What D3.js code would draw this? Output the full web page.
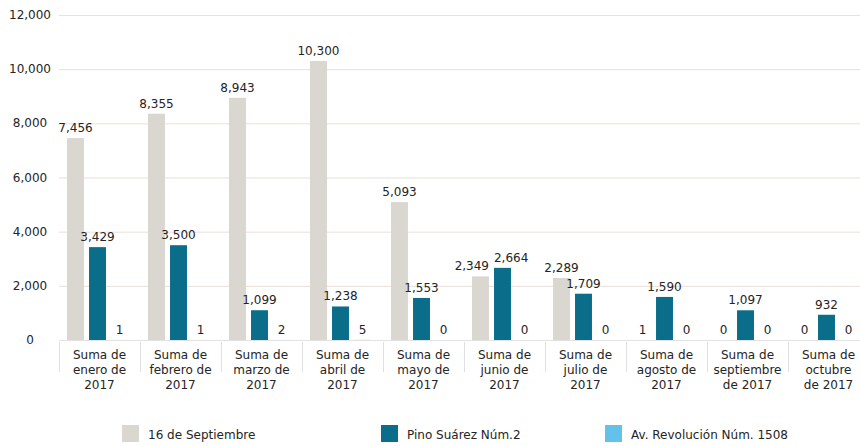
<!DOCTYPE html>
<html lang="es">
<head>
  <meta charset="UTF-8">
  <title>Suma por mes 2017</title>
  <style>
    body { margin: 0; background: #fff; }
    svg text { font-family: "DejaVu Sans", Verdana, sans-serif; fill: #242424; }
    .tick-y { font-size: 12px; text-anchor: middle; }
    .cat { font-size: 12px; text-anchor: middle; }
    .val { font-size: 12px; text-anchor: middle; }
    .legend text { font-size: 12px; }
  </style>
</head>
<body>
<svg width="860" height="446"></svg>

<script src="https://cdn.jsdelivr.net/npm/d3@7"></script>
<script>
  const categories = [
    ["Suma de", "enero de", "2017"],
    ["Suma de", "febrero de", "2017"],
    ["Suma de", "marzo de", "2017"],
    ["Suma de", "abril de", "2017"],
    ["Suma de", "mayo de", "2017"],
    ["Suma de", "junio de", "2017"],
    ["Suma de", "julio de", "2017"],
    ["Suma de", "agosto de", "2017"],
    ["Suma de", "septiembre", "de 2017"],
    ["Suma de", "octubre", "de 2017"]
  ];
  const seriesNames = ["16 de Septiembre", "Pino Suárez Núm.2", "Av. Revolución Núm. 1508"];
  const septiembre16 = [7456, 8355, 8943, 10300, 5093, 2349, 2289, 1, 0, 0];
  const pinoSuarez = [3429, 3500, 1099, 1238, 1553, 2664, 1709, 1590, 1097, 932];
  const avRevolucion = [1, 1, 2, 5, 0, 0, 0, 0, 0, 0];
  const yTicks = [0, 2000, 4000, 6000, 8000, 10000, 12000];

  const colors = ["#dad6d0", "#0a6e8b", "#62c2ea"];
  const series = [septiembre16, pinoSuarez, avRevolucion];

  const svg = d3.select("svg");
  const plotLeft = 59, plotRight = 869, plotTop = 15, plotBottom = 340;

  const x0 = d3.scaleBand()
    .domain(d3.range(categories.length))
    .range([plotLeft, plotRight]);

  const x1 = d3.scaleBand()
    .domain(d3.range(series.length))
    .range([8, 69])
    .paddingInner(0.23);

  const y = d3.scaleLinear()
    .domain([0, 12000])
    .range([plotBottom, plotTop]);

  // gridlines + y labels
  svg.append("g")
    .selectAll("line")
    .data(yTicks)
    .enter()
    .append("line")
    .attr("x1", plotLeft)
    .attr("x2", 860)
    .attr("y1", d => y(d) + 0.5)
    .attr("y2", d => y(d) + 0.5)
    .attr("stroke", d => d === 0 ? "#e2e2e2" : "#eadfd9")
    .attr("stroke-width", 1);

  svg.append("g")
    .selectAll("text")
    .data(yTicks)
    .enter()
    .append("text")
    .attr("class", "tick-y")
    .attr("x", 30)
    .attr("y", d => y(d) + 4)
    .text(d => d3.format(",")(d));

  // category separators
  svg.append("g")
    .selectAll("line")
    .data(d3.range(categories.length + 1))
    .enter()
    .append("line")
    .attr("x1", i => Math.round(plotLeft + i * x0.step()) + 0.5)
    .attr("x2", i => Math.round(plotLeft + i * x0.step()) + 0.5)
    .attr("y1", plotBottom + 2)
    .attr("y2", 372)
    .attr("stroke", "#e0e0e0");

  // category labels
  const cat = svg.append("g")
    .selectAll("text")
    .data(categories)
    .enter()
    .append("text")
    .attr("class", "cat")
    .attr("x", (d, i) => x0(i) + x0.bandwidth() / 2);

  cat.selectAll("tspan")
    .data(d => d)
    .enter()
    .append("tspan")
    .attr("x", function () { return d3.select(this.parentNode).attr("x"); })
    .attr("y", (d, j) => 359 + j * 15)
    .text(d => d);

  // bars
  const labels = [];
  series.forEach((vals, s) => {
    const g = svg.append("g");
    g.selectAll("rect")
      .data(vals)
      .enter()
      .append("rect")
      .attr("x", (d, i) => x0(i) + x1(s))
      .attr("y", d => y(d))
      .attr("width", x1.bandwidth())
      .attr("height", d => plotBottom - y(d))
      .attr("fill", colors[s]);

    labels[s] = g.selectAll("text")
      .data(vals)
      .enter()
      .append("text")
      .attr("class", "val")
      .attr("x", (d, i) => x0(i) + x1(s) + x1.bandwidth() / 2)
      .attr("y", d => y(d) - 6)
      .text(d => d3.format(",")(d))
      .nodes();
  });

  // push apart neighbouring value labels that collide
  categories.forEach((c, i) => {
    for (let s = 0; s < series.length - 1; s++) {
      const a = labels[s][i], b = labels[s + 1][i];
      const ay = +a.getAttribute("y"), by = +b.getAttribute("y");
      if (Math.abs(ay - by) > 13) continue;
      const ax = +a.getAttribute("x"), bx = +b.getAttribute("x");
      const need = (a.getComputedTextLength() + b.getComputedTextLength()) / 2 + 5;
      const overlap = need - (bx - ax);
      if (overlap > 0) {
        a.setAttribute("x", ax - overlap / 2);
        b.setAttribute("x", bx + overlap / 2);
      }
    }
  });

  // legend
  const legendX = [122, 381, 605];
  const legend = svg.append("g")
    .attr("class", "legend")
    .selectAll("g")
    .data(seriesNames)
    .enter()
    .append("g")
    .attr("transform", (d, i) => "translate(" + legendX[i] + ",425)");

  legend.append("rect")
    .attr("width", 17)
    .attr("height", 17)
    .attr("fill", (d, i) => colors[i]);

  legend.append("text")
    .attr("x", 26)
    .attr("y", 14)
    .text(d => d);
</script>
</body>
</html>
